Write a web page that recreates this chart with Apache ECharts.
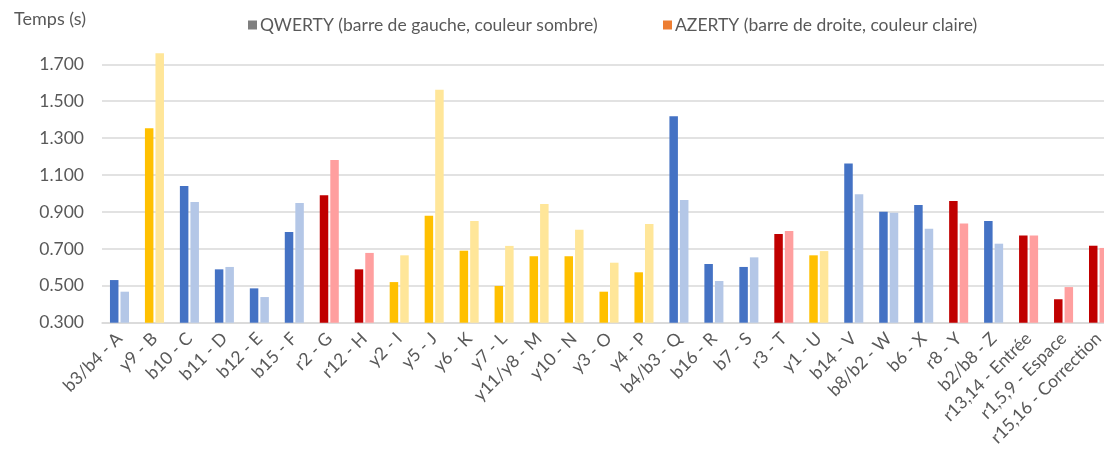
<!DOCTYPE html>
<html>
<head>
<meta charset="utf-8">
<script src="https://cdn.jsdelivr.net/npm/echarts@6/dist/echarts.min.js"></script>
<style>
  html, body { margin: 0; padding: 0; background: #fff; }
  #chart { width: 1104px; height: 450px; }
</style>
</head>
<body>
<div id="chart"></div>
<script>
// Keys (finger code + letter)
const categories = [
  'b3/b4 - A', 'y9 - B', 'b10 - C', 'b11 - D', 'b12 - E', 'b15 - F', 'r2 - G', 'r12 - H',
  'y2 - I', 'y5 - J', 'y6 - K', 'y7 - L', 'y11/y8 - M', 'y10 - N', 'y3 - O', 'y4 - P',
  'b4/b3 - Q', 'b16 - R', 'b7 - S', 'r3 - T', 'y1 - U', 'b14 - V', 'b8/b2 - W', 'b6 - X',
  'r8 - Y', 'b2/b8 - Z', 'r13,14 - Entrée', 'r1,5,9 - Espace', 'r15,16 - Correction'
];

// Colour family of each key: b = bleu, y = jaune, r = rouge
const groups = [
  'b', 'y', 'b', 'b', 'b', 'b', 'r', 'r',
  'y', 'y', 'y', 'y', 'y', 'y', 'y', 'y',
  'b', 'b', 'b', 'r', 'y', 'b', 'b', 'b',
  'r', 'b', 'r', 'r', 'r'
];

// Mean time per key (s)
const qwerty = [
  0.531, 1.353, 1.041, 0.589, 0.486, 0.791, 0.990, 0.589,
  0.520, 0.880, 0.690, 0.499, 0.660, 0.660, 0.468, 0.573,
  1.418, 0.618, 0.602, 0.780, 0.665, 1.163, 0.901, 0.938,
  0.959, 0.851, 0.773, 0.427, 0.717
];
const azerty = [
  0.468, 1.759, 0.954, 0.602, 0.439, 0.948, 1.181, 0.678,
  0.665, 1.562, 0.851, 0.716, 0.943, 0.804, 0.625, 0.835,
  0.965, 0.526, 0.654, 0.797, 0.688, 0.996, 0.896, 0.809,
  0.838, 0.728, 0.773, 0.493, 0.705
];

// Value axis: labelled ticks 0.300 … 1.700, plot area runs up to 1.8
const yAxisRange = { min: 0.3, max: 1.8, step: 0.2 };

const seriesNames = ['QWERTY (barre de gauche, couleur sombre)', 'AZERTY (barre de droite, couleur claire)'];

const darkColors  = { b: '#4472C4', y: '#FFC000', r: '#C00000' };
const lightColors = { b: '#B4C7E7', y: '#FFE699', r: '#FF9F9F' };

const FONT = 'Lato';
const TEXT = '#595959';

const chart = echarts.init(document.getElementById('chart'), null, { renderer: 'canvas' });

function items(values, palette) {
  return values.map((v, i) => ({
    value: v,
    itemStyle: { color: palette[groups[i]] }
  }));
}

function legendAt(left, name) {
  return {
    top: 11,
    left: left,
    icon: 'rect',
    itemWidth: 9,
    itemHeight: 9,
    itemGap: 0,
    textStyle: { fontFamily: FONT, fontSize: 17.5, color: TEXT, padding: [0, 0, 0, -2] },
    data: [name]
  };
}

chart.setOption({
  animation: false,
  backgroundColor: '#ffffff',
  textStyle: { fontFamily: FONT },
  legend: [legendAt(243, seriesNames[0]), legendAt(658, seriesNames[1])],
  grid: {
    left: 102,
    top: 45.8,
    width: 1014,
    height: 276.9,
    containLabel: false,
    outerBoundsMode: 'none'
  },
  xAxis: {
    type: 'category',
    data: categories,
    axisTick: { show: false },
    axisLine: { onZero: false, lineStyle: { color: '#D9D9D9', width: 1.5 } },
    axisLabel: {
      interval: 0,
      rotate: 45,
      margin: 13,
      fontFamily: FONT,
      fontSize: 17.5,
      color: TEXT
    }
  },
  yAxis: {
    type: 'value',
    name: 'Temps (s)',
    nameLocation: 'end',
    nameGap: 18,
    nameTextStyle: { fontFamily: FONT, fontSize: 18, color: TEXT, align: 'right', padding: [0, 16, 0, 0] },
    min: yAxisRange.min,
    max: yAxisRange.max,
    interval: yAxisRange.step,
    axisLine: { show: false },
    axisTick: { show: false },
    splitLine: { showMaxLine: false, lineStyle: { color: '#D9D9D9', width: 1.5 } },
    axisLabel: {
      showMaxLabel: false,
      fontFamily: FONT,
      fontSize: 17.5,
      color: TEXT,
      margin: 18,
      formatter: v => v.toFixed(3)
    }
  },
  series: [
    {
      name: seriesNames[0],
      type: 'bar',
      barWidth: 8.5,
      barGap: '24%',
      itemStyle: { color: '#7F7F7F' },
      data: items(qwerty, darkColors)
    },
    {
      name: seriesNames[1],
      type: 'bar',
      barWidth: 8.5,
      barGap: '24%',
      itemStyle: { color: '#ED7D31' },
      data: items(azerty, lightColors)
    }
  ]
});
</script>
</body>
</html>
